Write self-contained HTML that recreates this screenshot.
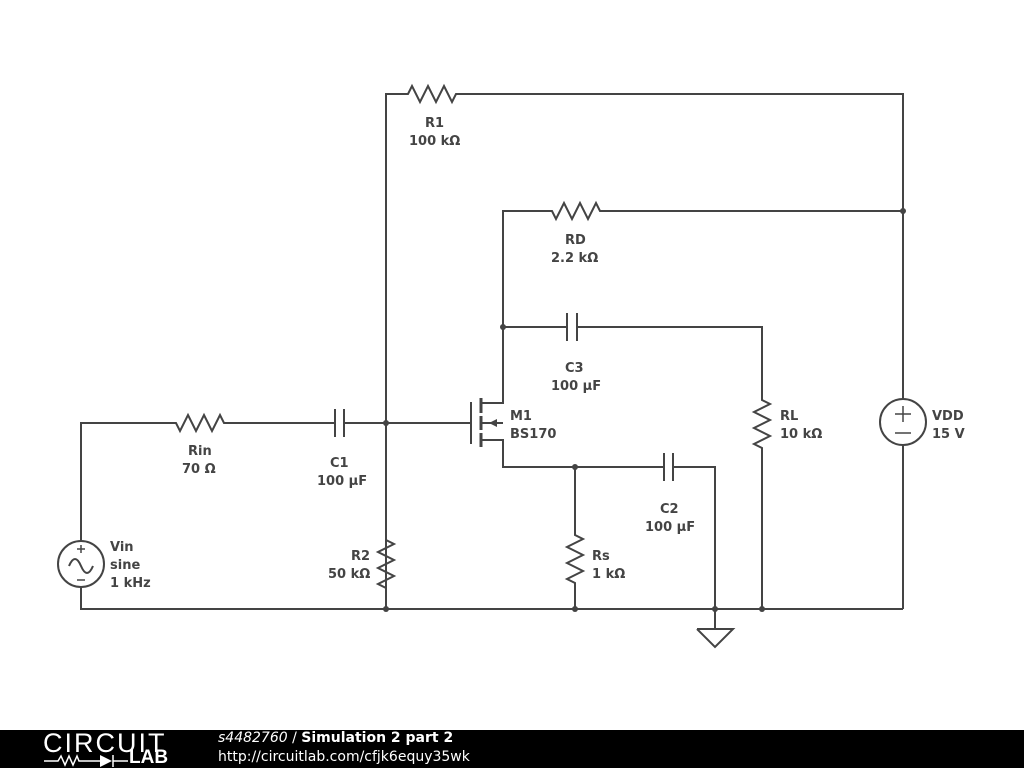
<!DOCTYPE html>
<html><head><style>
body{margin:0;width:1024px;height:768px;background:#fff;overflow:hidden;font-family:"Liberation Sans",sans-serif}
svg text{font-family:"DejaVu Sans","Liberation Sans",sans-serif;font-weight:bold;font-size:13px;fill:#444}
#bar{position:absolute;left:0;top:730px;width:1024px;height:38px;background:#000;color:#fff}
</style></head><body>
<svg width="1024" height="730" style="position:absolute;left:0;top:0">
<g stroke="#444" stroke-width="2" fill="none">
<polyline points="386,609 386,94 408,94 412,86 420,102 428,86 436,102 444,86 452,102 456,94 460,94 903,94 903,399"/>
<polyline points="903,445 903,609"/>
<circle cx="903" cy="422" r="23"/>
<polyline points="903,211 600,211 596,203 588,219 580,203 572,219 564,203 556,219 552,211 503,211 503,403 481,403"/>
<polyline points="503,327 567,327"/><line x1="567" y1="313" x2="567" y2="341"/><line x1="577" y1="313" x2="577" y2="341"/>
<polyline points="577,327 762,327 762,400 770,404 754,412 770,420 754,428 770,436 754,444 762,448 762,609"/>
<line x1="471" y1="402" x2="471" y2="444"/>
<line x1="481" y1="398" x2="481" y2="413" stroke-width="3"/>
<line x1="481" y1="416" x2="481" y2="430" stroke-width="3"/>
<line x1="481" y1="433" x2="481" y2="447" stroke-width="3"/>
<line x1="481" y1="423" x2="503" y2="423"/>
<polyline points="481,440 503,440 503,467 664,467"/>
<line x1="664" y1="453" x2="664" y2="481"/><line x1="673" y1="453" x2="673" y2="481"/>
<polyline points="673,467 715,467 715,629"/>
<polyline points="697,629 733,629 715,647 697,629"/>
<polyline points="575,467 575,535 583,539 567,547 583,555 567,563 583,571 567,579 575,583 575,609"/>
<polyline points="386,540 394,544 378,552 394,560 378,568 394,576 378,584 386,588"/>
<polyline points="386,423 344,423"/><line x1="344" y1="409" x2="344" y2="437"/><line x1="335" y1="409" x2="335" y2="437"/>
<polyline points="335,423 224,423 220,415 212,431 204,415 196,431 188,415 180,431 176,423 81,423 81,541"/>
<polyline points="386,423 471,423"/>
<circle cx="81" cy="564" r="23"/>
<polyline points="81,587 81,609 903,609"/>
<path d="M69,566 q6,-14 12,0 t12,0"/>
<line x1="81" y1="545" x2="81" y2="553" stroke-width="1.5"/><line x1="77" y1="549" x2="85" y2="549" stroke-width="1.5"/>
<line x1="77" y1="580" x2="85" y2="580" stroke-width="1.5"/>
<line x1="895" y1="414" x2="911" y2="414" stroke-width="1.5"/><line x1="903" y1="406" x2="903" y2="422" stroke-width="1.5"/>
<line x1="895" y1="433" x2="911" y2="433" stroke-width="1.5"/>
</g>
<polygon points="489,423 497,419 497,427" fill="#444"/>
<g fill="#444">
<circle cx="386" cy="423" r="3"/><circle cx="903" cy="211" r="3"/><circle cx="503" cy="327" r="3"/>
<circle cx="575" cy="467" r="3"/><circle cx="386" cy="609" r="3"/><circle cx="575" cy="609" r="3"/>
<circle cx="715" cy="609" r="3"/><circle cx="762" cy="609" r="3"/>
</g>
<text x="425" y="127">R1</text><text x="409" y="145">100 kΩ</text>
<text x="565" y="244">RD</text><text x="551" y="262">2.2 kΩ</text>
<text x="565" y="372">C3</text><text x="551" y="390">100 µF</text>
<text x="510" y="420">M1</text><text x="510" y="438">BS170</text>
<text x="780" y="420">RL</text><text x="780" y="438">10 kΩ</text>
<text x="932" y="420">VDD</text><text x="932" y="438">15 V</text>
<text x="188" y="455">Rin</text><text x="182" y="473">70 Ω</text>
<text x="330" y="467">C1</text><text x="317" y="485">100 µF</text>
<text x="660" y="513">C2</text><text x="645" y="531">100 µF</text>
<text x="351" y="560">R2</text><text x="328" y="578">50 kΩ</text>
<text x="592" y="560">Rs</text><text x="592" y="578">1 kΩ</text>
<text x="110" y="551">Vin</text><text x="110" y="569">sine</text><text x="110" y="587">1 kHz</text>
</svg>
<div id="bar">
<div style="position:absolute;left:43px;top:-2px;font-size:27px;letter-spacing:2px;color:#fff">CIRCUIT</div>
<svg width="90" height="14" style="position:absolute;left:44px;top:23px">
<g stroke="#fff" stroke-width="1.5" fill="none"><polyline points="0,8 14,8 17,3 21,12 25,3 29,12 33,3 35,8 56,8"/><line x1="69" y1="2" x2="69" y2="14"/><line x1="69" y1="8" x2="84" y2="8"/></g>
<polygon points="56,2 56,14 68,8" fill="#fff"/></svg>
<div style="position:absolute;left:129px;top:18px;font-size:19px;font-weight:bold;line-height:20px">LAB</div>
<div style="position:absolute;left:218px;top:0px;font-size:14px;font-family:'DejaVu Sans',sans-serif"><i>s4482760</i> / <b>Simulation 2 part 2</b></div>
<div style="position:absolute;left:218px;top:19px;font-size:14px;font-family:'DejaVu Sans',sans-serif">http://circuitlab.com/cfjk6equy35wk</div>
</div>
</body></html>
